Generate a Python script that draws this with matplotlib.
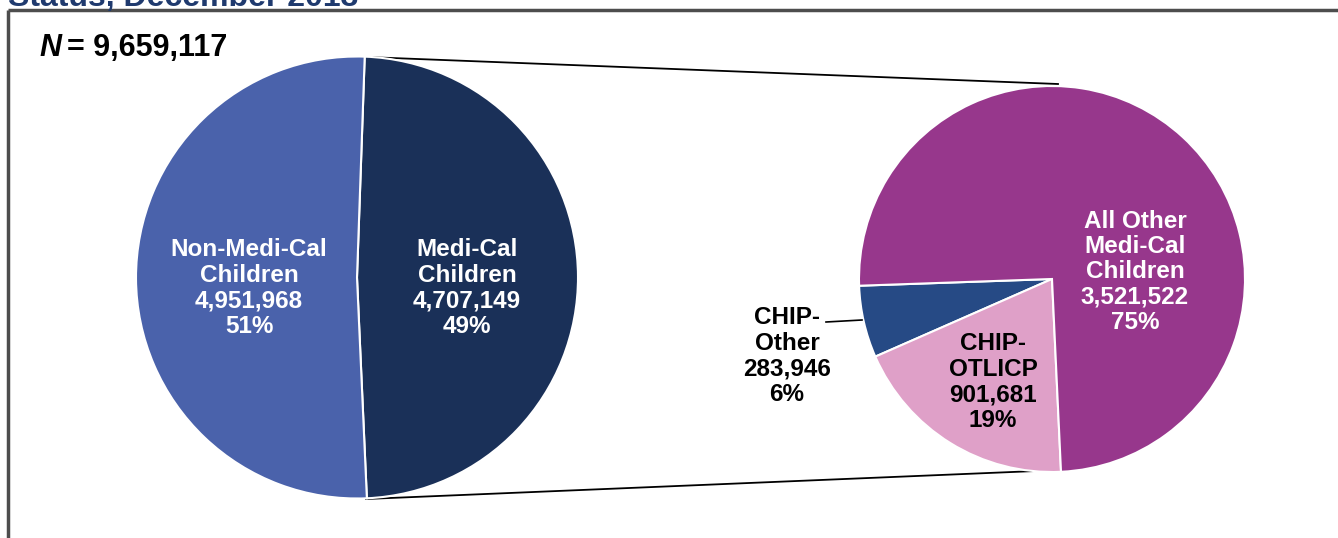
import matplotlib
matplotlib.use("Agg")
import matplotlib.pyplot as plt

plt.rcParams['font.family'] = ['Liberation Sans', 'DejaVu Sans']

# data
title_text = "Status, December 2013"
total_label = "9,659,117"

left_names = ["Medi-Cal\nChildren", "Non-Medi-Cal\nChildren"]
left_values = [4707149, 4951968]
left_pcts = ["49%", "51%"]
left_colors = ["#1a3058", "#4a62ab"]

right_names = ["CHIP-\nOther", "CHIP-\nOTLICP", "All Other\nMedi-Cal\nChildren"]
right_values = [283946, 901681, 3521522]
right_pcts = ["6%", "19%", "75%"]
right_colors = ["#264a85", "#dfa0c8", "#97378c"]

W, H = 1338, 538
fig = plt.figure(figsize=(W / 100, H / 100), dpi=100)
ax = fig.add_axes([0, 0, 1, 1])

def py(y):
    # pixel row -> data y
    return H - y

# left pie
lc = (357, py(277.5))
lr = 221
ax.pie(left_values, colors=left_colors, startangle=88, counterclock=False,
       center=lc, radius=lr, wedgeprops=dict(edgecolor="white", linewidth=1.5))

# right pie
rc = (1052, py(279))
rr = 193
ax.pie(right_values, colors=right_colors, startangle=182, counterclock=True,
       center=rc, radius=rr, wedgeprops=dict(edgecolor="white", linewidth=1.5))

# connector lines
ax.plot([366, 1058], [py(57), py(84)], color="black", lw=1.3, zorder=0)
ax.plot([366, 1060], [py(499), py(470)], color="black", lw=1.3, zorder=0)

fmt = lambda v: f"{v:,}"
tkw = dict(ha="center", va="center", fontsize=17.5, fontweight="bold", linespacing=1.13)

ax.text(249, py(288), f"{left_names[1]}\n{fmt(left_values[1])}\n{left_pcts[1]}", color="white", **tkw)
ax.text(467, py(288), f"{left_names[0]}\n{fmt(left_values[0])}\n{left_pcts[0]}", color="white", **tkw)
ax.text(1135, py(272), f"{right_names[2]}\n{fmt(right_values[2])}\n{right_pcts[2]}", color="white", **tkw)
ax.text(993, py(382), f"{right_names[1]}\n{fmt(right_values[1])}\n{right_pcts[1]}", color="black", **tkw)
ax.text(787, py(356), f"{right_names[0]}\n{fmt(right_values[0])}\n{right_pcts[0]}", color="black", **tkw)
ax.plot([826, 862], [py(322), py(320)], color="black", lw=1.2)

# N label
ax.text(39, py(48), "N", fontsize=22, fontweight="bold", style="italic", ha="left", va="center")
ax.text(67, py(48), "= " + total_label, fontsize=22, fontweight="bold", ha="left", va="center")

# frame
ax.plot([8, 8], [0, py(10)], color="#4d4d4d", lw=2.5, solid_capstyle="butt")
ax.plot([8, W], [py(10), py(10)], color="#4d4d4d", lw=2.5, solid_capstyle="butt")

# cropped title
ax.text(8, py(6), title_text, fontsize=23, fontweight="bold", color="#1f3a6e",
        ha="left", va="baseline")

ax.set_xlim(0, W)
ax.set_ylim(0, H)
ax.set_aspect("auto")
ax.axis("off")

fig.savefig("out.png", dpi=100)
